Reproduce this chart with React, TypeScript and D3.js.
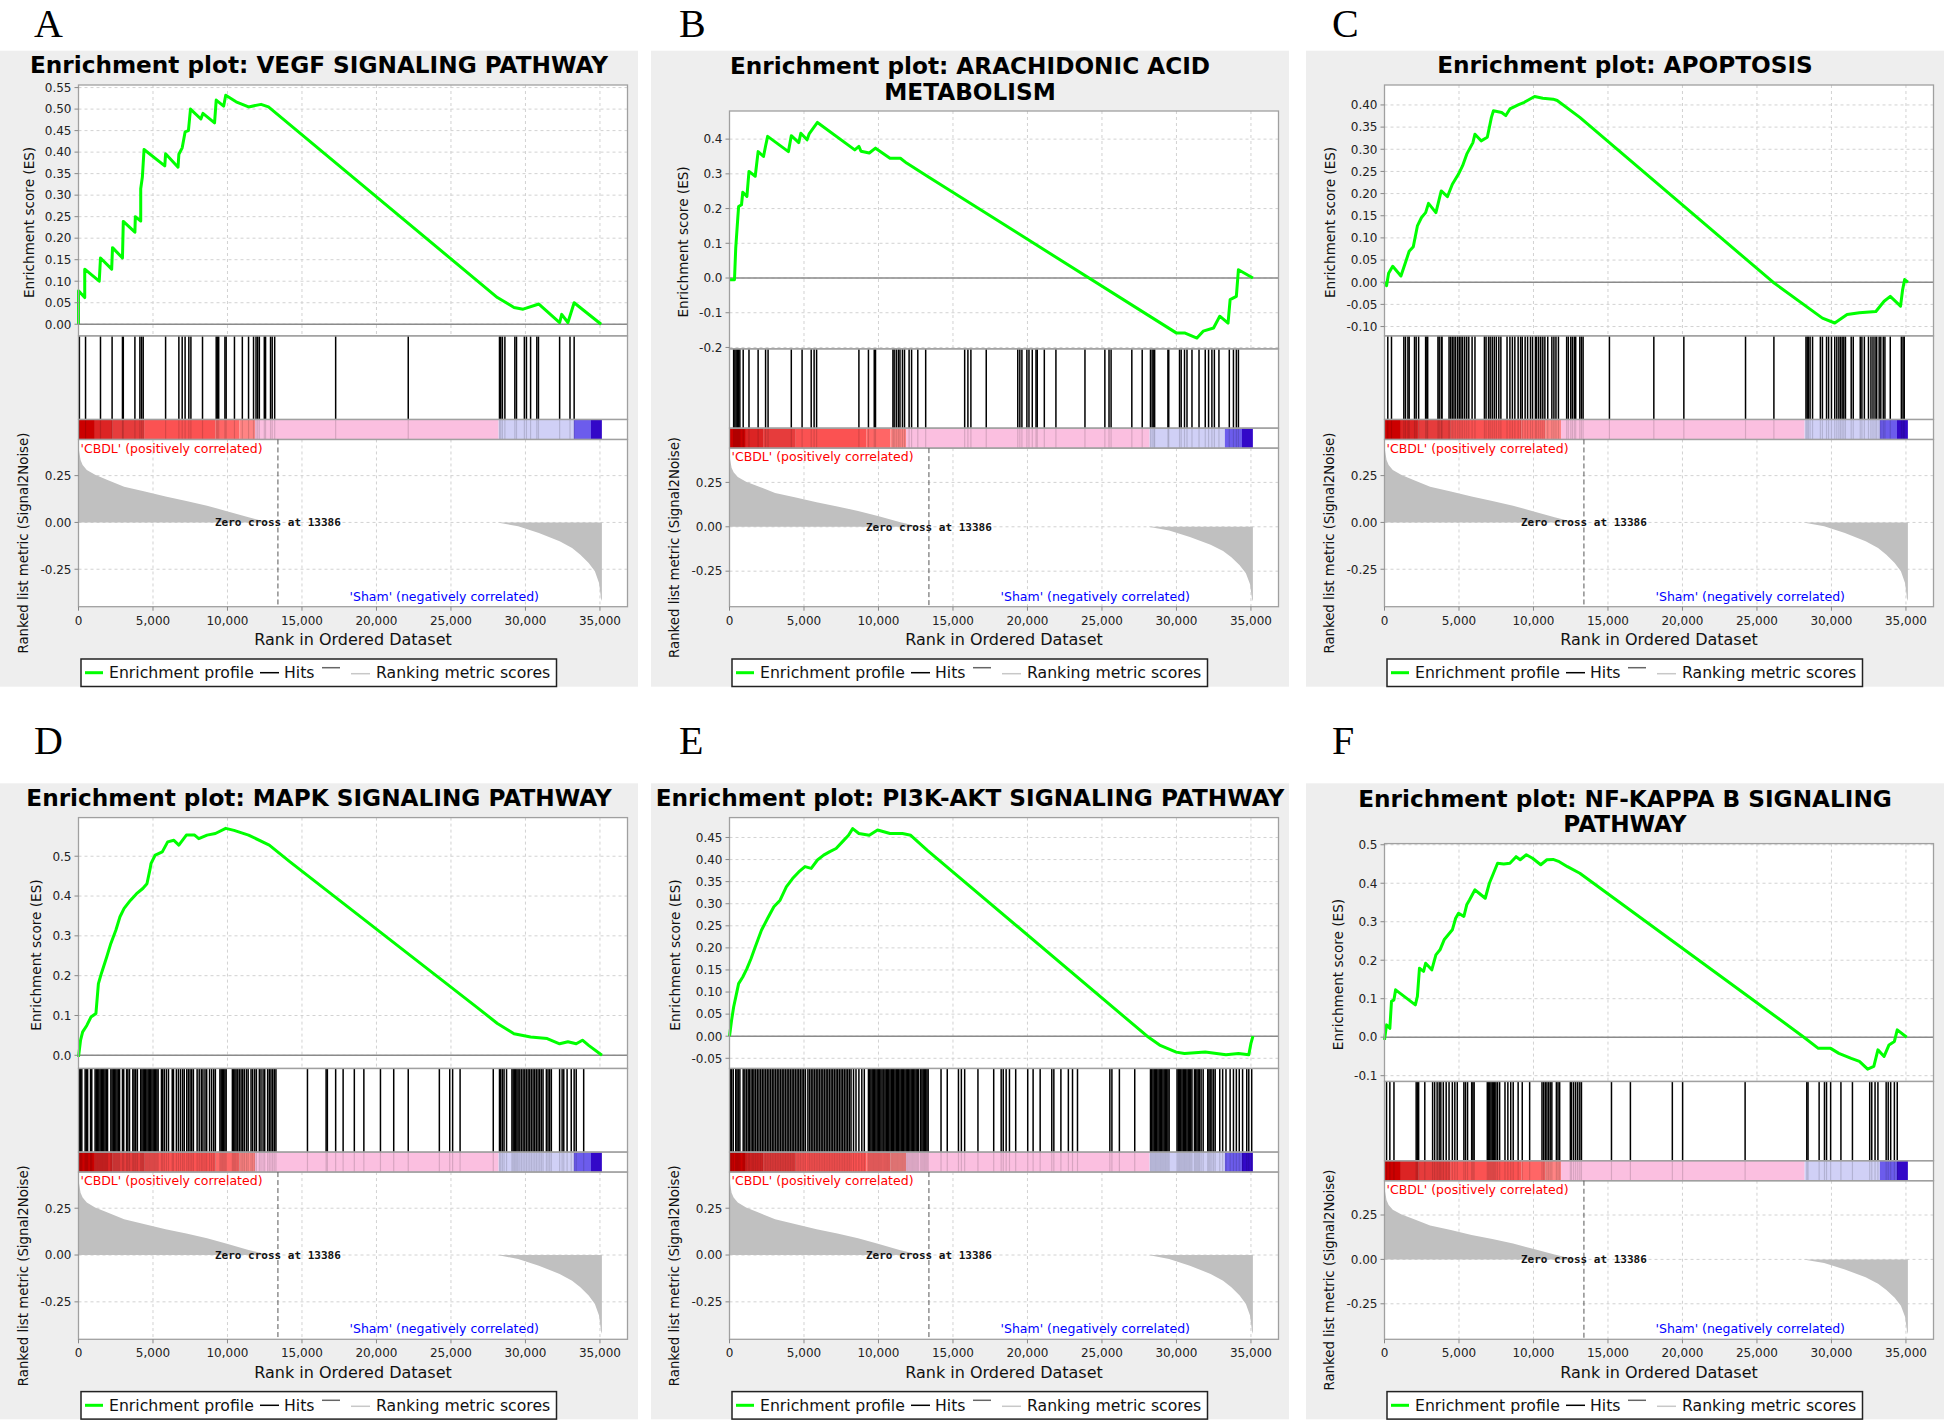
import React from 'react';
import * as d3 from 'd3';

type Pt = [number, number];

// ---------------- shared data ----------------
const X_MAX = 36850;
const RANK_TICKS = [0, 5000, 10000, 15000, 20000, 25000, 30000, 35000];
const METRIC_DOMAIN: Pt = [-0.45, 0.443];
const METRIC_TICKS = [-0.25, 0, 0.25];
const ZERO_CROSS = 13386;

const METRIC_CURVE: Pt[] = [
  [0, 0.4], [139, 0.333], [278, 0.307], [557, 0.28], [1114, 0.254], [1949, 0.227], [3062, 0.191],
  [4454, 0.165], [5846, 0.138], [7238, 0.115], [8630, 0.089], [10022, 0.059], [11414, 0.027],
  [12528, 0.005], [13386, 0], [28118, 0], [29510, -0.021], [30902, -0.057], [32294, -0.101],
  [33130, -0.137], [33686, -0.172], [34243, -0.216], [34661, -0.261], [34939, -0.323],
  [35078, -0.408], [35130, -0.42],
];

const COLOR_BAR: [number, number, string][] = [
  [0, 1100, '#cc0000'], [1100, 2300, '#dc2424'], [2300, 4450, '#e63c3c'], [4450, 9200, '#fb5252'],
  [9200, 10800, '#ff6666'], [10800, 11850, '#ff8484'], [11850, 28200, '#fbbfe0'],
  [28200, 33250, '#d0d0f6'], [33250, 34400, '#6c5cec'], [34400, 35130, '#3308c8'],
];

// ---------------- panel A ----------------
const TITLE_A = ['Enrichment plot: VEGF SIGNALING PATHWAY'];
const DOMAIN_A: Pt = [-0.027, 0.556];
const TICKS_A = [0, 0.05, 0.1, 0.15, 0.2, 0.25, 0.3, 0.35, 0.4, 0.45, 0.5, 0.55];
const ES_A: Pt[] = [
  [0, 0], [0, 0.078], [418, 0.062], [418, 0.128], [1392, 0.1], [1476, 0.154], [2227, 0.128],
  [2283, 0.178], [2951, 0.154], [3007, 0.239], [3786, 0.214], [3814, 0.25], [4176, 0.24],
  [4176, 0.315], [4287, 0.342], [4399, 0.406], [5791, 0.368], [5846, 0.396], [6682, 0.365],
  [6737, 0.395], [6960, 0.41], [7155, 0.447], [7378, 0.45], [7517, 0.5], [8213, 0.477],
  [8352, 0.49], [9132, 0.468], [9243, 0.521], [9744, 0.507], [9883, 0.532], [10579, 0.517],
  [11414, 0.505], [12250, 0.511], [12751, 0.505], [28118, 0.062], [29232, 0.039], [29844, 0.035],
  [30902, 0.047], [32294, 0.004], [32434, 0.023], [32851, 0.004], [33269, 0.05], [35078, 0],
];
const HITS_A = [
  60, 473, 1476, 2255, 2951, 3007, 3786, 4120, 4232, 4343, 5846, 6737, 6960, 7155, 7406, 7545,
  8324, 9243, 9326, 9410, 9828, 9911, 10468, 10997, 11414, 11749, 11916, 12027, 12138, 12472,
  12556, 12890, 13001, 13168, 17261, 22133, 28258, 28342, 28453, 28620, 29288, 29399, 29928,
  30067, 30345, 30763, 30874, 32294, 32990, 33269,
];

// ---------------- panel B ----------------
const TITLE_B = ['Enrichment plot: ARACHIDONIC ACID', 'METABOLISM'];
const DOMAIN_B: Pt = [-0.204, 0.481];
const TICKS_B = [-0.2, -0.1, 0, 0.1, 0.2, 0.3, 0.4];
const ES_B: Pt[] = [
  [0, -0.005], [334, -0.005], [418, 0.086], [557, 0.173], [612, 0.206], [807, 0.211], [891, 0.247],
  [1169, 0.235], [1308, 0.307], [1726, 0.293], [1921, 0.364], [2283, 0.35], [2422, 0.38],
  [2561, 0.408], [3953, 0.364], [4148, 0.41], [4649, 0.39], [4788, 0.417], [5206, 0.398],
  [5345, 0.415], [5902, 0.448], [8408, 0.369], [8686, 0.379], [8825, 0.365], [9382, 0.36],
  [9800, 0.374], [10774, 0.345], [11470, 0.345], [11888, 0.331], [13280, 0.293], [29984, -0.158],
  [30541, -0.158], [31376, -0.173], [31794, -0.153], [32490, -0.144], [32907, -0.11],
  [33464, -0.13], [33603, -0.062], [34021, -0.053], [34160, 0.024], [35134, 0],
];
const HITS_B = [
  278, 362, 445, 529, 612, 696, 919, 1308, 1921, 2422, 2589, 4148, 4872, 5484, 5679, 5846, 8686,
  9326, 9716, 9800, 10969, 11052, 11192, 11331, 11442, 11609, 11748, 12055, 12222, 12639, 13168,
  15785, 16002, 16203, 17233, 19349, 19488, 19627, 19961, 20101, 20323, 20574, 20657, 21131,
  21910, 23859, 25195, 25474, 25613, 27005, 27701, 28258, 28369, 28480, 28536, 29427, 29483,
  30207, 30318, 30541, 30708, 31042, 31515, 31933, 32156, 32379, 32546, 32852, 33548, 33826,
  34021, 34160,
];

// ---------------- panel C ----------------
const TITLE_C = ['Enrichment plot: APOPTOSIS'];
const DOMAIN_C: Pt = [-0.121, 0.445];
const TICKS_C = [-0.1, -0.05, 0, 0.05, 0.1, 0.15, 0.2, 0.25, 0.3, 0.35, 0.4];
const ES_C: Pt[] = [
  [0, 0], [138, -0.008], [276, 0.02], [552, 0.036], [1104, 0.014], [1463, 0.05], [1656, 0.07],
  [1932, 0.08], [2208, 0.127], [2484, 0.146], [2760, 0.157], [2953, 0.178], [3450, 0.157],
  [3809, 0.206], [4223, 0.193], [4554, 0.221], [4968, 0.244], [5244, 0.263], [5520, 0.289],
  [5934, 0.315], [6072, 0.334], [6486, 0.319], [6900, 0.327], [7176, 0.372], [7314, 0.387],
  [7866, 0.383], [8142, 0.376], [8418, 0.391], [8970, 0.4], [9384, 0.406], [10074, 0.419],
  [10626, 0.415], [11316, 0.413], [11592, 0.41], [13110, 0.372], [26082, 0], [29394, -0.081],
  [30222, -0.092], [31050, -0.073], [31878, -0.069], [32982, -0.066], [33534, -0.043],
  [33948, -0.032], [34638, -0.054], [34776, -0.017], [34914, 0.006], [35135, 0],
];
const HITS_C = [
  221, 469, 1297, 1408, 1573, 1656, 2015, 2125, 2291, 2760, 2843, 2898, 3588, 3671, 3809, 3864,
  4333, 4444, 4554, 4664, 4775, 4913, 5023, 5134, 5244, 5382, 5520, 5658, 5879, 6072, 6707, 6817,
  6983, 7093, 7231, 7369, 7507, 7673, 7811, 8225, 8418, 8584, 8749, 8970, 9136, 9246, 9439, 9605,
  9798, 9936, 10129, 10212, 10350, 10488, 10626, 10764, 10957, 11233, 11371, 11509, 11675, 12227,
  12337, 12503, 12613, 12742, 12834, 13110, 13220, 13331, 15097, 18078, 20093, 24233, 26137,
  28290, 28373, 28456, 28566, 28732, 29256, 29394, 29670, 29808, 30001, 30222, 30360, 30498,
  30608, 30719, 30829, 30940, 31326, 31464, 31933, 32044, 32209, 32485, 32651, 32789, 32927,
  33037, 33203, 33313, 33479, 33589, 33948, 34693, 34804, 34886,
];

// ---------------- panel D ----------------
const TITLE_D = ['Enrichment plot: MAPK SIGNALING PATHWAY'];
const DOMAIN_D: Pt = [-0.033, 0.597];
const TICKS_D = [0, 0.1, 0.2, 0.3, 0.4, 0.5];
const ES_D: Pt[] = [
  [0, -0.004], [139, 0.038], [278, 0.059], [557, 0.075], [835, 0.096], [1169, 0.105], [1336, 0.18],
  [1531, 0.205], [1893, 0.247], [2172, 0.281], [2506, 0.314], [2784, 0.348], [3062, 0.369],
  [3480, 0.389], [3898, 0.406], [4315, 0.419], [4594, 0.431], [4788, 0.465], [4872, 0.482],
  [5150, 0.503], [5624, 0.511], [5986, 0.536], [6403, 0.54], [6737, 0.528], [7238, 0.553],
  [7795, 0.553], [8074, 0.544], [8630, 0.553], [9187, 0.557], [9883, 0.57], [10440, 0.565],
  [11414, 0.553], [12806, 0.528], [14198, 0.486], [26726, 0.121], [28118, 0.08], [29232, 0.054],
  [30346, 0.046], [31459, 0.042], [32294, 0.029], [32851, 0.034], [33408, 0.029], [33826, 0.038],
  [34243, 0.025], [35134, 0],
];
const HITS_D = [
  56, 139, 223, 445, 529, 612, 807, 891, 1114, 1197, 1281, 1364, 1448, 1531, 1615, 1698, 1782,
  1865, 1949, 2172, 2255, 2339, 2422, 2506, 2589, 2673, 2756, 2951, 3035, 3229, 3313, 3424, 3647,
  3731, 3842, 3953, 4176, 4260, 4343, 4427, 4510, 4594, 4677, 4761, 4844, 4928, 5011, 5095, 5178,
  5262, 5345, 5568, 5652, 5763, 5902, 6041, 6292, 6375, 6570, 6709, 6849, 6988, 7099, 7266, 7378,
  7489, 7600, 7712, 7962, 8101, 8241, 8352, 8491, 8603, 8797, 8937, 9076, 9187, 9493, 9577, 9660,
  9744, 9828, 9911, 10329, 10412, 10496, 10579, 10691, 10802, 10913, 11025, 11136, 11275, 11387,
  11581, 11693, 11832, 11943, 12138, 12250, 12389, 12500, 12695, 12806, 12918, 13029, 13140,
  13252, 15368, 16620, 16704, 17261, 17762, 18514, 19154, 20268, 21158, 22133, 24221, 24917,
  25112, 25613, 27840, 28258, 28341, 28452, 28564, 28731, 29093, 29176, 29260, 29343, 29427,
  29510, 29622, 29733, 29844, 29956, 30067, 30179, 30290, 30401, 30513, 30624, 30735, 30847,
  30958, 31069, 31181, 31404, 31515, 31626, 31738, 32294, 32461, 32573, 32796, 33074, 33269,
  33408, 33909,
];

// ---------------- panel E ----------------
const TITLE_E = ['Enrichment plot: PI3K-AKT SIGNALING PATHWAY'];
const DOMAIN_E: Pt = [-0.073, 0.495];
const TICKS_E = [-0.05, 0, 0.05, 0.1, 0.15, 0.2, 0.25, 0.3, 0.35, 0.4, 0.45];
const ES_E: Pt[] = [
  [0, 0], [139, 0.036], [278, 0.066], [473, 0.097], [612, 0.119], [891, 0.134], [1169, 0.153],
  [1448, 0.176], [1726, 0.202], [2144, 0.24], [2561, 0.267], [2979, 0.293], [3396, 0.308],
  [3814, 0.338], [4232, 0.357], [4649, 0.372], [5067, 0.384], [5484, 0.38], [5902, 0.399],
  [6320, 0.41], [6737, 0.418], [7155, 0.425], [7572, 0.44], [7990, 0.455], [8268, 0.47],
  [8686, 0.459], [9382, 0.455], [9939, 0.467], [10774, 0.459], [11609, 0.459], [12166, 0.455],
  [13280, 0.421], [28035, 0], [28870, -0.02], [29984, -0.036], [30541, -0.039], [31933, -0.036],
  [33325, -0.042], [34160, -0.039], [34856, -0.042], [34995, -0.017], [35134, 0],
];
const HITS_E = [
  56, 139, 251, 418, 501, 585, 696, 919, 1030, 1141, 1253, 1336, 1448, 1559, 1643, 1754, 1865,
  1977, 2088, 2199, 2311, 2422, 2533, 2645, 2756, 2868, 2979, 3090, 3202, 3313, 3424, 3536, 3647,
  3758, 3870, 3981, 4092, 4204, 4315, 4427, 4538, 4649, 4761, 4872, 4983, 5095, 5262, 5373, 5484,
  5596, 5707, 5819, 5930, 6041, 6153, 6264, 6375, 6487, 6598, 6709, 6821, 6932, 7044, 7155, 7266,
  7378, 7489, 7600, 7712, 7823, 7934, 8046, 8157, 8324, 8491, 8686, 8881, 9048, 9326, 9410, 9493,
  9577, 9660, 9744, 9828, 9911, 9995, 10078, 10162, 10245, 10356, 10440, 10524, 10607, 10691,
  10774, 10858, 10941, 11025, 11108, 11192, 11275, 11359, 11442, 11526, 11609, 11693, 11776,
  11860, 11943, 12027, 12110, 12194, 12277, 12361, 12444, 12528, 12612, 12695, 12834, 12918,
  13001, 13085, 13168, 13252, 13335, 14198, 14616, 15368, 15563, 15785, 16676, 17734, 18235,
  18374, 18569, 18792, 19210, 20017, 20379, 20852, 21632, 21771, 22244, 22745, 23024, 23358,
  25529, 25668, 26170, 27200, 28258, 28341, 28425, 28508, 28592, 28675, 28759, 28842, 28926,
  29009, 29093, 29176, 29260, 29343, 29427, 29510, 30039, 30123, 30206, 30290, 30373, 30457,
  30540, 30624, 30707, 30791, 30874, 30958, 31041, 31209, 31292, 31376, 31460, 31543, 31654,
  31794, 32100, 32183, 32267, 32378, 32490, 32601, 32907, 33102, 33325, 33603, 33826, 34021,
  34216, 34439, 34717, 34856, 35051,
];

// ---------------- panel F ----------------
const TITLE_F = ['Enrichment plot: NF-KAPPA B SIGNALING', 'PATHWAY'];
const DOMAIN_F: Pt = [-0.115, 0.503];
const TICKS_F = [-0.1, 0, 0.1, 0.2, 0.3, 0.4, 0.5];
const ES_F: Pt[] = [
  [0, -0.007], [138, 0.032], [359, 0.023], [469, 0.093], [635, 0.097], [745, 0.123], [2070, 0.084],
  [2208, 0.106], [2346, 0.179], [2622, 0.171], [2760, 0.192], [3174, 0.175], [3450, 0.214],
  [3726, 0.227], [4002, 0.253], [4278, 0.266], [4554, 0.279], [4775, 0.309], [4968, 0.322],
  [5327, 0.314], [5520, 0.344], [5713, 0.357], [6072, 0.383], [6348, 0.374], [6762, 0.361],
  [7038, 0.4], [7314, 0.426], [7590, 0.452], [8004, 0.45], [8418, 0.452], [8832, 0.469],
  [9108, 0.461], [9522, 0.474], [9936, 0.465], [10488, 0.448], [10902, 0.461], [11316, 0.462],
  [11730, 0.456], [12282, 0.443], [13110, 0.426], [28152, 0], [29118, -0.029], [29946, -0.029],
  [30498, -0.042], [31326, -0.055], [31878, -0.063], [32430, -0.083], [32844, -0.076],
  [33120, -0.033], [33534, -0.05], [33865, -0.02], [34224, -0.011], [34417, 0.019], [35052, 0],
];
const HITS_F = [
  138, 359, 635, 2125, 2208, 2291, 2705, 3229, 3367, 3533, 3671, 3781, 3947, 4140, 4333, 4554,
  4720, 4885, 5327, 5437, 5575, 5851, 5934, 6017, 6900, 6983, 7066, 7148, 7231, 7314, 7397, 7480,
  7590, 7728, 8087, 8280, 8473, 8639, 8970, 9246, 9743, 10571, 10681, 10792, 10902, 11012, 11123,
  11233, 11537, 11647, 11758, 12475, 12558, 12696, 12834, 12972, 13110, 13220, 15235, 16505,
  19320, 20010, 24205, 28345, 28428, 29173, 29532, 29670, 29946, 30636, 31409, 32568, 32706,
  32927, 33120, 33672, 33810, 33976, 34224, 34417,
];

const PANELS = [
  { letter: 'A', title: TITLE_A, es: ES_A, hits: HITS_A, domain: DOMAIN_A, ticks: TICKS_A, dec: 2 },
  { letter: 'B', title: TITLE_B, es: ES_B, hits: HITS_B, domain: DOMAIN_B, ticks: TICKS_B, dec: 1 },
  { letter: 'C', title: TITLE_C, es: ES_C, hits: HITS_C, domain: DOMAIN_C, ticks: TICKS_C, dec: 2 },
  { letter: 'D', title: TITLE_D, es: ES_D, hits: HITS_D, domain: DOMAIN_D, ticks: TICKS_D, dec: 1 },
  { letter: 'E', title: TITLE_E, es: ES_E, hits: HITS_E, domain: DOMAIN_E, ticks: TICKS_E, dec: 2 },
  { letter: 'F', title: TITLE_F, es: ES_F, hits: HITS_F, domain: DOMAIN_F, ticks: TICKS_F, dec: 1 },
];

// ---------------- layout ----------------
const COLS = [0, 651, 1306];
const ROWS = [50.7, 783.3];
const LETTER_X = [34, 679, 1332];
const LETTER_Y = [37, 754];
const PANEL_W = 638;
const PANEL_H = 636;
const PLOT_OFF_X = 78.5;
const PLOT_W = 549;
const FONT = '"DejaVu Sans", Verdana, sans-serif';
const MONO = '"DejaVu Sans Mono", monospace';
const GRID = '#d2d2d2';
const BORDER = '#a0a0a0';

const CW: Record<string, number> = { '0': 0.636, '1': 0.636, '2': 0.636, '3': 0.636, '4': 0.636, '5': 0.636, '6': 0.636, '7': 0.636, '8': 0.636, '9': 0.636, '.': 0.318, '-': 0.361 };
const textW = (s: string, size: number) => s.split('').reduce((a, c) => a + (CW[c] ?? 0.6), 0) * size;

function Panel({ p, idx }: { p: any; idx: number }) {
  const col = idx % 3;
  const row = Math.floor(idx / 3);
  const px = COLS[col];
  const py = ROWS[row];
  const left = px + PLOT_OFF_X;
  const right = left + PLOT_W;
  const two = p.title.length > 1;
  const top = py + (two ? 60.3 : 34.3);
  const axisY = py + 556;
  const avail = axisY - top - 20;
  const esBottom = top + avail / 2;
  const hitsBottom = esBottom + avail / 6;
  const cbBottom = hitsBottom + 20;

  const x = d3.scaleLinear().domain([0, X_MAX]).range([left, right]);
  const yEs = d3.scaleLinear().domain(p.domain).range([esBottom, top]);
  const yM = d3.scaleLinear().domain(METRIC_DOMAIN).range([axisY, cbBottom]);

  const esLine = d3.line<Pt>().x((d) => x(d[0])).y((d) => yEs(d[1]))(p.es) || '';
  const mArea = d3.area<Pt>().x((d) => x(d[0])).y0(yM(0)).y1((d) => yM(d[1]))(METRIC_CURVE) || '';

  const fmtY = (v: number) => d3.format(`.${p.dec}f`)(v).replace('\u2212', '-');
  const fmtM = (v: number) => d3.format('.2f')(v).replace('\u2212', '-');
  const fmtX = d3.format(',');

  const maxTickW = Math.max(...p.ticks.map((t: number) => textW(fmtY(t), 12)));
  const esLabelX = left - maxTickW - 23;
  const mLabelX = left - 56;

  const lx0 = left + 2.5;
  const ly0 = axisY + 52.3;
  const lcy = ly0 + 13.7;

  return (
    <g>
      <text x={LETTER_X[col]} y={LETTER_Y[row]} fontFamily='"Liberation Serif", "Times New Roman", serif' fontSize={40} fill="#000">
        {p.letter}
      </text>
      <rect x={px} y={py} width={PANEL_W} height={PANEL_H} fill="#eeeeee" />
      {p.title.map((t: string, i: number) => (
        <text key={i} x={px + PANEL_W / 2} y={py + (two ? 23.3 + i * 25.7 : 22.3)} textAnchor="middle" fontFamily={FONT} fontWeight="bold" fontSize={23.2} fill="#000">
          {t}
        </text>
      ))}
      <rect x={left} y={top} width={PLOT_W} height={axisY - top} fill="#fff" />
      {RANK_TICKS.slice(1).map((r) => (
        <line key={'gx' + r} x1={x(r)} x2={x(r)} y1={top} y2={esBottom} stroke={GRID} strokeDasharray="3,3" />
      ))}
      {p.ticks.map((t: number) => (
        <line key={'gy' + t} x1={left} x2={right} y1={yEs(t)} y2={yEs(t)} stroke={GRID} strokeDasharray="3,3" />
      ))}
      {RANK_TICKS.slice(1).map((r) => (
        <line key={'mgx' + r} x1={x(r)} x2={x(r)} y1={cbBottom} y2={axisY} stroke={GRID} strokeDasharray="3,3" />
      ))}
      {METRIC_TICKS.map((t) => (
        <line key={'mgy' + t} x1={left} x2={right} y1={yM(t)} y2={yM(t)} stroke={GRID} strokeDasharray="3,3" />
      ))}
      <path d={mArea} fill="#c0c0c0" stroke="none" />
      <line x1={left} x2={right} y1={yEs(0)} y2={yEs(0)} stroke="#8a8a8a" strokeWidth={1.5} />
      <path d={esLine} fill="none" stroke="#00ff00" strokeWidth={3} strokeLinejoin="round" />
      {p.hits.map((h: number, i: number) => (
        <line key={'h' + i} x1={x(h)} x2={x(h)} y1={esBottom} y2={hitsBottom} stroke="#000" strokeWidth={1.5} />
      ))}
      {COLOR_BAR.map(([a, b, c]) => (
        <rect key={'cb' + a} x={x(a)} y={hitsBottom} width={x(b) - x(a)} height={20} fill={c} />
      ))}
      {p.hits.map((h: number, i: number) => (
        <line key={'hc' + i} x1={x(h)} x2={x(h)} y1={hitsBottom} y2={cbBottom} stroke="#000" strokeOpacity={0.14} strokeWidth={1.2} />
      ))}
      <rect x={left} y={top} width={PLOT_W} height={esBottom - top} fill="none" stroke={BORDER} strokeWidth={1.3} />
      <rect x={left} y={esBottom} width={PLOT_W} height={hitsBottom - esBottom} fill="none" stroke={BORDER} strokeWidth={1.3} />
      <rect x={left} y={hitsBottom} width={PLOT_W} height={20} fill="none" stroke={BORDER} strokeWidth={1.3} />
      <rect x={left} y={cbBottom} width={PLOT_W} height={axisY - cbBottom} fill="none" stroke={BORDER} strokeWidth={1.3} />
      <line x1={x(ZERO_CROSS)} x2={x(ZERO_CROSS)} y1={cbBottom} y2={axisY} stroke="#555" strokeDasharray="5,3" strokeWidth={1} />
      <text x={x(ZERO_CROSS)} y={yM(0) + 4} textAnchor="middle" fontFamily={MONO} fontWeight="bold" fontSize={11} fill="#111">
        Zero cross at {ZERO_CROSS}
      </text>
      <text x={left + 2} y={cbBottom + 13.2} fontFamily={FONT} fontSize={12.5} fill="#ff0000">
        'CBDL' (positively correlated)
      </text>
      <text x={left + 460.5} y={axisY - 6.2} textAnchor="end" fontFamily={FONT} fontSize={12.5} fill="#0000ff">
        'Sham' (negatively correlated)
      </text>
      {p.ticks.map((t: number) => (
        <g key={'ty' + t}>
          <line x1={left - 4} x2={left} y1={yEs(t)} y2={yEs(t)} stroke="#888" />
          <text x={left - 7} y={yEs(t) + 4.3} textAnchor="end" fontFamily={FONT} fontSize={12} fill="#222">
            {fmtY(t)}
          </text>
        </g>
      ))}
      {METRIC_TICKS.map((t) => (
        <g key={'tm' + t}>
          <line x1={left - 4} x2={left} y1={yM(t)} y2={yM(t)} stroke="#888" />
          <text x={left - 7} y={yM(t) + 4.3} textAnchor="end" fontFamily={FONT} fontSize={12} fill="#222">
            {fmtM(t)}
          </text>
        </g>
      ))}
      {RANK_TICKS.map((r) => (
        <g key={'tx' + r}>
          <line x1={x(r)} x2={x(r)} y1={axisY} y2={axisY + 4} stroke="#888" />
          <text x={x(r)} y={axisY + 18} textAnchor="middle" fontFamily={FONT} fontSize={12} fill="#222">
            {fmtX(r)}
          </text>
        </g>
      ))}
      <text x={(left + right) / 2} y={axisY + 38.4} textAnchor="middle" fontFamily={FONT} fontSize={16} fill="#111">
        Rank in Ordered Dataset
      </text>
      <text transform={`translate(${esLabelX},${(top + esBottom) / 2 + 12}) rotate(-90)`} y={5} textAnchor="middle" fontFamily={FONT} fontSize={13.6} fill="#111">
        Enrichment score (ES)
      </text>
      <text transform={`translate(${mLabelX},${(cbBottom + axisY) / 2 + 20}) rotate(-90)`} y={5} textAnchor="middle" fontFamily={FONT} fontSize={13.3} fill="#111">
        Ranked list metric (Signal2Noise)
      </text>
      <rect x={lx0} y={ly0} width={475.5} height={27.5} fill="#fff" stroke="#222" strokeWidth={1.5} />
      <line x1={lx0 + 4} x2={lx0 + 22} y1={lcy} y2={lcy} stroke="#00ff00" strokeWidth={3} />
      <text x={lx0 + 28} y={lcy + 5.6} fontFamily={FONT} fontSize={15.7} fill="#111">Enrichment profile</text>
      <line x1={lx0 + 179} x2={lx0 + 198} y1={lcy} y2={lcy} stroke="#000" strokeWidth={1.5} />
      <text x={lx0 + 203} y={lcy + 5.6} fontFamily={FONT} fontSize={15.7} fill="#111">Hits</text>
      <line x1={lx0 + 241} x2={lx0 + 259} y1={lcy - 5} y2={lcy - 5} stroke="#666" strokeWidth={1.5} />
      <line x1={lx0 + 270} x2={lx0 + 289} y1={lcy + 1} y2={lcy + 1} stroke="#c8c8c8" strokeWidth={1.5} />
      <text x={lx0 + 295} y={lcy + 5.6} fontFamily={FONT} fontSize={15.7} fill="#111">Ranking metric scores</text>
    </g>
  );
}

export default function App() {
  return (
    <div style={{ position: 'absolute', left: 0, top: 0 }}>
      <svg width={1944} height={1422} viewBox="0 0 1944 1422" style={{ display: 'block', background: '#fff' }}>
        <rect x={0} y={0} width={1944} height={1422} fill="#fff" />
        {PANELS.map((p, i) => (
          <Panel key={p.letter} p={p} idx={i} />
        ))}
      </svg>
    </div>
  );
}
